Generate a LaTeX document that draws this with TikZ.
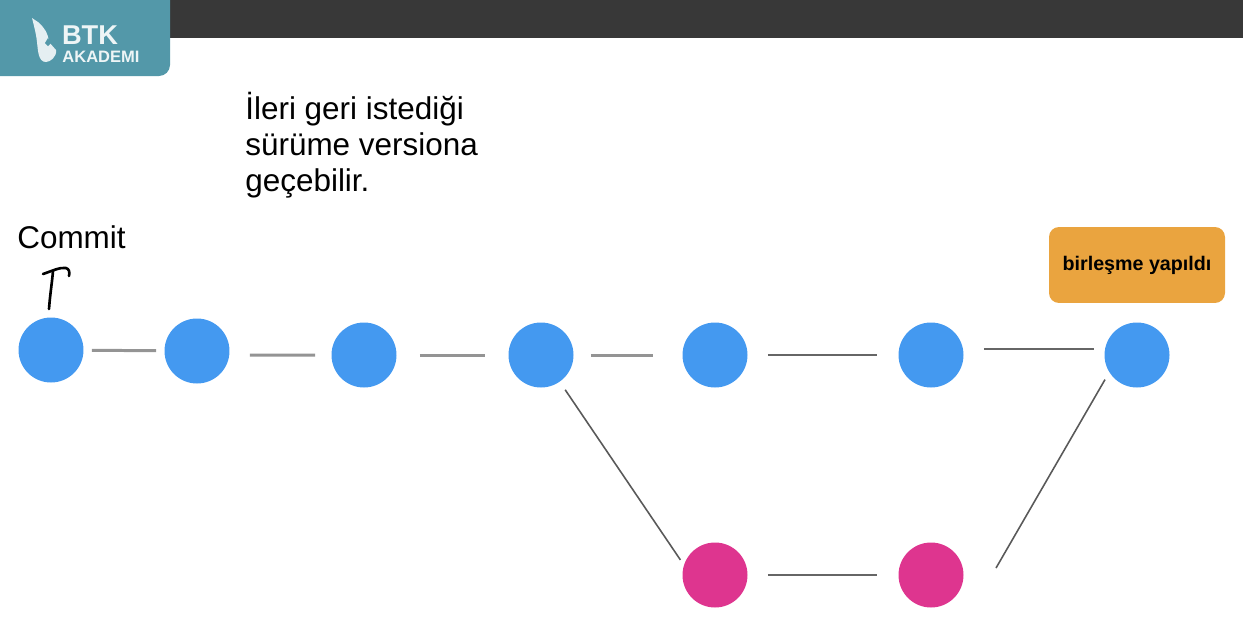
\documentclass[tikz,border=0pt]{standalone}
\usepackage{fontspec}
\setmainfont{Liberation Sans}
\usetikzlibrary{positioning}
\definecolor{commitblue}{HTML}{4499F0}
\definecolor{branchpink}{HTML}{DE358F}
\definecolor{mergeorange}{HTML}{EAA43F}
\definecolor{barteal}{HTML}{5398A9}
\definecolor{bardark}{HTML}{383838}
\tikzset{
	commit/.style={circle,fill=commitblue,minimum size=1.3cm,inner sep=0pt},
	branchcommit/.style={circle,fill=branchpink,minimum size=1.3cm,inner sep=0pt},
	link/.style={line width=1.7pt,color=black!42},
	longlink/.style={line width=1.2pt,color=black!60},
	slant/.style={line width=.9pt,color=black!65},
	note/.style={align=left,anchor=north west,inner sep=0pt,font=\fontsize{17.9}{20.4}\selectfont},
	pen/.style={line width=1.5pt,line cap=round,line join=round}
}
\begin{document}
\begin{tikzpicture}[x=.02cm,y=-.02cm]
	\useasboundingbox (0,0) rectangle (1243,619);
	% top bar
	\fill[bardark] (0,0) rectangle (1243,38);
	\fill[barteal,rounded corners=.22cm] (-20,-20) -- (170,-20) -- (170,76) -- (-20,76) -- cycle;
	\fill[white!85!barteal] (32,18) -- (38,22) .. controls (44,27) and (48,33) .. (49,42) -- (56,50) .. controls (57,57) and (50,62) .. (46,62) .. controls (38,62) and (38,50) .. (37,42) .. controls (36,33) and (34,26) .. (32,18) -- cycle;
	\fill[barteal] (48,38) -- (51,43) -- (48,46) -- (45,43) -- cycle;
	\node[inner sep=0pt,text=white!90!barteal,font=\fontsize{15.5}{16}\selectfont\bfseries] (btk) at (90,35) {BTK};
	\node[inner sep=0pt,text=white!90!barteal,font=\fontsize{9.4}{10}\selectfont\bfseries] (akademi) at (101,57) {AKADEMI};
	% texts
	\node[note] (version) at (245,92) {İleri geri istediği\\sürüme versiona\\geçebilir.};
	\node[note] (commitlabel) at (17,225) {Commit};
	\node[fill=mergeorange,rounded corners=.2cm,minimum width=3.52cm,minimum height=1.52cm,inner sep=0pt,font=\fontsize{11.2}{13}\selectfont\bfseries] (merged) at (1137,265) {birleşme yapıldı};
	% commits
	\node[commit] (c1) at (51,350) {};
	\node[commit] (c2) at (197,351) {};
	\node[commit] (c3) at (364,355) {};
	\node[commit] (c4) at (541,355) {};
	\node[commit] (c5) at (715,355) {};
	\node[commit] (c6) at (931,355) {};
	\node[commit] (c7) at (1137,355) {};
	\node[branchcommit] (p1) at (715,575) {};
	\node[branchcommit] (p2) at (931,575) {};
	% hand drawn mark
	\draw[pen] (49,309) .. controls (50,295) and (52,283) .. (53,271);
	\draw[pen] (43,274) .. controls (52,271) and (60,267) .. (66,268) .. controls (69,269) and (70,272) .. (69,276);
	% links
	\draw[link,shorten <=.16cm,shorten >=.16cm] (c1) -- (c2);
	\draw[link,shorten <=.4cm,shorten >=.32cm] ([yshift=-.08cm]c2.east) -- (c3.west);
	\draw[link,shorten <=.46cm,shorten >=.46cm] (c3) -- (c4);
	\draw[link,shorten <=.34cm,shorten >=.58cm] (c4) -- (c5);
	\draw[longlink,shorten <=.4cm,shorten >=.42cm] (c5) -- (c6);
	\draw[longlink,shorten <=.4cm,shorten >=.2cm] ([yshift=.12cm]c6.east) -- ([yshift=.12cm]c7.west);
	\draw[longlink,shorten <=.4cm,shorten >=.42cm] (p1) -- (p2);
	\draw[slant,shorten <=.19cm,shorten >=.12cm] (c4.-55.4) -- (p1.162.4);
	\coordinate (p2end) at (996,568);
	\draw[slant,shorten >=.166cm] (p2end) -- (c7.212.6);
\end{tikzpicture}
\end{document}
